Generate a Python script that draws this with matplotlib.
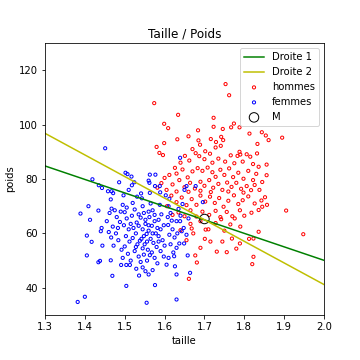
import matplotlib
matplotlib.use("Agg")
import matplotlib.pyplot as plt
import numpy as np

# hommes (taille, poids)
hommes = [
    (1.753, 114.9), (1.762, 110.8), (1.574, 107.9), (1.634, 103.6), (1.723, 102.5),
    (1.774, 100.4), (1.599, 100.3), (1.609, 98.7), (1.746, 98.4), (1.723, 99.2),
    (1.767, 99.0), (1.788, 99.0), (1.684, 97.9), (1.813, 96.7), (1.844, 97.2),
    (1.854, 96.0), (1.861, 94.3), (1.895, 95.2), (1.660, 95.7), (1.632, 94.6),
    (1.742, 95.5), (1.747, 94.3), (1.729, 93.6), (1.716, 94.7), (1.685, 94.2),
    (1.689, 92.6), (1.833, 92.9), (1.580, 91.8), (1.599, 93.2), (1.587, 89.6),
    (1.596, 88.8), (1.670, 91.0), (1.678, 89.5), (1.687, 88.4), (1.702, 90.2),
    (1.714, 89.3), (1.728, 91.6), (1.741, 92.2), (1.788, 90.0), (1.783, 88.5),
    (1.790, 89.0), (1.766, 88.7), (1.806, 89.1), (1.815, 88.2), (1.832, 89.4),
    (1.651, 88.5), (1.662, 86.8), (1.700, 87.3), (1.720, 86.0), (1.735, 87.5),
    (1.752, 86.4), (1.775, 85.8), (1.796, 86.4), (1.822, 85.5), (1.856, 85.3),
    (1.836, 84.5), (1.640, 86.0), (1.626, 84.1),
    (1.856, 81.4), (1.612, 81.5), (1.630, 82.0), (1.645, 83.5), (1.658, 80.6),
    (1.670, 82.8), (1.683, 84.0), (1.695, 83.0), (1.708, 84.2), (1.720, 82.5),
    (1.728, 80.8), (1.740, 83.4), (1.750, 81.5), (1.762, 83.9), (1.772, 80.7),
    (1.785, 82.3), (1.798, 80.1), (1.810, 83.0), (1.822, 79.6), (1.830, 81.9),
    (1.845, 78.9), (1.600, 80.4), (1.592, 78.5), (1.620, 78.0), (1.637, 79.6),
    (1.650, 77.0), (1.664, 78.6), (1.676, 76.5), (1.690, 79.0), (1.700, 77.5),
    (1.712, 79.6), (1.722, 76.8), (1.735, 78.2), (1.745, 76.0), (1.757, 78.7),
    (1.768, 77.1), (1.780, 78.6), (1.792, 76.4), (1.806, 77.4), (1.817, 75.9),
    (1.826, 77.8), (1.838, 76.0), (1.582, 76.8), (1.605, 76.0), (1.630, 75.4),
    (1.660, 75.3), (1.690, 75.7), (1.716, 75.2), (1.760, 75.4), (1.798, 75.0),
    (1.843, 72.1), (1.852, 73.3), (1.857, 70.5), (1.836, 68.6), (1.845, 69.8),
    (1.826, 71.0), (1.810, 73.6), (1.796, 72.2), (1.785, 70.8), (1.774, 74.0),
    (1.760, 72.0), (1.748, 69.8), (1.737, 73.0), (1.726, 71.2), (1.714, 73.5),
    (1.702, 71.7), (1.690, 73.9), (1.680, 70.5), (1.668, 72.6), (1.655, 70.4),
    (1.643, 73.2), (1.630, 71.5), (1.617, 73.9), (1.606, 70.0), (1.818, 67.6),
    (1.800, 66.5), (1.789, 68.5), (1.770, 66.3), (1.756, 67.9), (1.740, 66.0),
    (1.728, 68.3), (1.712, 66.8), (1.695, 68.0), (1.680, 66.2), (1.665, 68.5),
    (1.650, 66.3), (1.635, 67.7), (1.620, 66.8), (1.905, 68.4), (1.776, 65.5),
    (1.742, 65.2),
    (1.948, 59.7), (1.836, 60.6), (1.823, 58.1), (1.812, 58.0), (1.790, 62.5),
    (1.765, 63.3), (1.769, 58.1), (1.750, 61.0), (1.728, 63.8), (1.710, 61.5),
    (1.701, 58.0), (1.703, 61.4), (1.672, 60.0), (1.668, 61.8), (1.665, 63.5),
    (1.655, 57.5), (1.640, 61.2), (1.789, 56.3), (1.780, 54.4), (1.745, 57.0),
    (1.690, 64.5), (1.715, 57.0),
    (1.823, 51.4), (1.820, 48.7), (1.756, 53.1), (1.731, 53.3), (1.690, 54.7),
    (1.661, 43.3), (1.681, 49.3), (1.677, 51.9),
]

# femmes (taille, poids)
femmes = [
    (1.451, 91.3), (1.419, 79.9), (1.435, 77.7), (1.443, 76.7), (1.458, 75.5),
    (1.467, 75.5), (1.471, 74.8), (1.486, 78.8), (1.502, 82.3), (1.507, 81.8),
    (1.517, 80.9), (1.518, 77.7), (1.524, 78.8), (1.541, 74.7), (1.543, 72.9),
    (1.563, 81.6), (1.577, 81.6), (1.560, 79.4), (1.562, 78.6), (1.576, 77.4),
    (1.588, 77.4), (1.589, 75.1), (1.563, 74.9), (1.531, 73.5), (1.510, 76.0),
    (1.497, 74.0), (1.655, 77.4), (1.678, 77.4), (1.639, 87.8), (1.696, 71.5),
    (1.650, 76.0), (1.603, 74.0), (1.612, 72.7),
    (1.389, 67.3), (1.409, 70.0), (1.413, 65.0), (1.434, 68.4), (1.465, 72.5),
    (1.467, 69.1), (1.442, 62.0), (1.440, 60.8), (1.405, 59.2), (1.417, 56.9),
    (1.444, 55.5),
    (1.475, 68.5), (1.480, 66.0), (1.488, 64.2), (1.470, 62.5), (1.478, 60.0),
    (1.466, 58.5), (1.484, 57.5), (1.472, 55.5), (1.492, 54.0), (1.460, 60.5),
    (1.455, 64.5), (1.462, 67.5), (1.495, 70.5), (1.500, 67.8), (1.505, 65.5),
    (1.498, 63.0), (1.510, 61.5), (1.503, 59.0), (1.512, 57.0), (1.500, 55.2),
    (1.508, 52.5), (1.495, 51.0), (1.515, 50.0), (1.520, 71.2), (1.525, 68.8),
    (1.518, 66.5), (1.530, 64.0), (1.522, 62.0), (1.528, 60.0), (1.520, 58.3),
    (1.532, 56.0), (1.525, 53.5), (1.535, 51.5), (1.540, 49.5), (1.545, 70.0),
    (1.548, 67.5), (1.540, 65.8), (1.552, 63.5), (1.545, 61.5), (1.555, 59.8),
    (1.542, 58.0), (1.550, 56.0), (1.558, 54.0), (1.548, 52.2), (1.556, 50.0),
    (1.545, 47.5), (1.565, 71.0), (1.570, 68.5), (1.562, 66.0), (1.575, 64.5),
    (1.568, 62.8), (1.560, 61.0), (1.578, 60.0), (1.565, 58.0), (1.572, 56.5),
    (1.580, 55.0), (1.568, 53.0), (1.575, 51.0), (1.582, 49.0), (1.570, 46.5),
    (1.588, 70.5), (1.592, 67.0), (1.585, 65.0), (1.598, 63.0), (1.590, 61.5),
    (1.585, 59.0), (1.595, 57.5), (1.600, 55.5), (1.590, 53.5), (1.598, 51.5),
    (1.605, 48.5), (1.610, 70.0), (1.615, 67.5), (1.608, 66.0), (1.620, 61.5),
    (1.612, 59.5), (1.625, 58.5), (1.615, 56.0), (1.622, 53.0), (1.610, 51.0),
    (1.635, 69.0), (1.640, 66.5), (1.648, 62.0), (1.655, 59.5), (1.645, 70.8),
    (1.660, 65.5), (1.632, 60.0), (1.535, 62.8), (1.560, 63.0), (1.548, 59.0),
    (1.538, 57.3), (1.556, 57.0), (1.528, 55.0), (1.515, 63.5), (1.505, 69.5),
    (1.490, 68.0), (1.483, 62.0), (1.560, 68.0), (1.575, 66.8), (1.552, 65.0),
    (1.535, 67.0), (1.582, 62.0), (1.570, 60.0), (1.545, 54.5), (1.563, 52.0),
    (1.585, 57.0),
    (1.405, 51.9), (1.434, 49.4), (1.438, 49.9), (1.465, 50.1), (1.469, 44.4),
    (1.491, 48.4), (1.504, 48.4), (1.513, 48.4), (1.529, 47.0), (1.536, 44.5),
    (1.552, 46.1), (1.504, 40.7), (1.576, 41.0), (1.560, 44.9), (1.382, 34.8),
    (1.400, 36.7), (1.555, 34.5), (1.630, 35.7), (1.626, 47.9), (1.630, 44.9),
    (1.664, 45.5), (1.658, 51.9), (1.637, 56.3), (1.649, 56.3), (1.630, 54.7),
    (1.624, 51.6), (1.609, 63.1), (1.618, 64.7), (1.630, 64.5), (1.639, 64.5),
    (1.643, 60.8),
]

M = (1.70, 65.3)

# droites : poids aux bornes x = 1.3 et x = 2.0
x_bornes = [1.3, 2.0]
droite1 = [84.8, 50.1]
droite2 = [96.8, 41.2]

h = np.array(hommes)
f = np.array(femmes)

fig = plt.figure(figsize=(5, 5), dpi=72)
ax = fig.add_axes([0.125, 0.125, 0.775, 0.7555])

ax.plot(x_bornes, droite1, 'g', label='Droite 1')
ax.plot(x_bornes, droite2, 'y', label='Droite 2')
ax.scatter(h[:, 0], h[:, 1], s=10, facecolors='none', edgecolors='r', linewidths=1, label='hommes')
ax.scatter(f[:, 0], f[:, 1], s=10, facecolors='none', edgecolors='b', linewidths=1, label='femmes')
ax.scatter([M[0]], [M[1]], s=90, facecolors='none', edgecolors='k', linewidths=1, label='M')

ax.set_xlim(1.3, 2.0)
ax.set_ylim(30, 130)
ax.set_title("Taille / Poids")
ax.set_xlabel("taille")
ax.set_ylabel("poids")
ax.legend(loc='upper right')

fig.savefig("out.png", dpi=72)
